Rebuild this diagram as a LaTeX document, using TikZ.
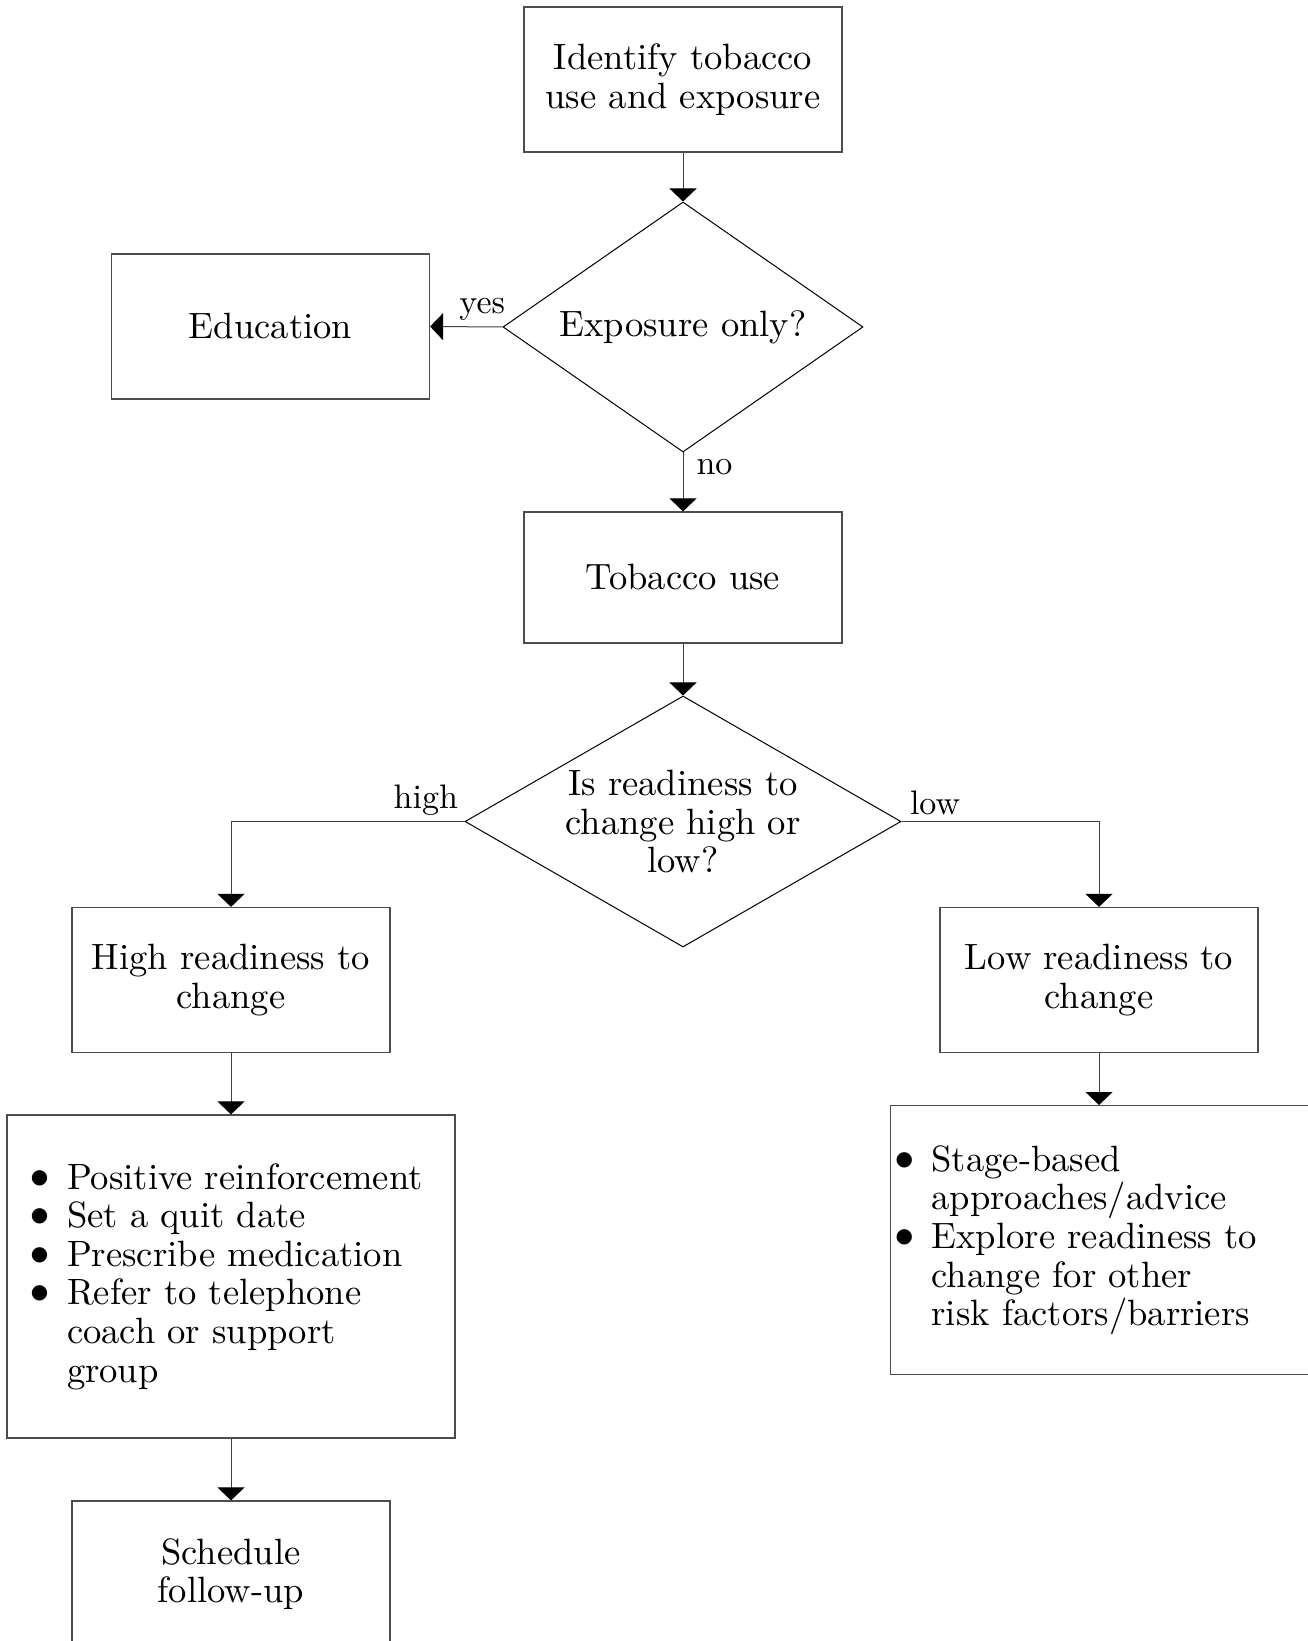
\documentclass[tikz,border=0pt]{standalone}
\usepackage{fontspec}
\setmainfont{lmroman10-regular.otf}
\newfontfamily\dotfont{DejaVu Sans}
\usetikzlibrary{arrows.meta,positioning,shapes.geometric,calc}
\newcommand{\chartfont}{\fontsize{18.3}{19.3}\selectfont}
\newcommand{\labelfont}{\fontsize{17}{18}\selectfont}
\newcommand{\bul}[1]{\makebox[#1][l]{\raisebox{3pt}{\dotfont\fontsize{10}{10}\selectfont ●}}}
\tikzset{
  act/.style={rectangle, draw=black!70, line width=0.6pt, align=center, font=\chartfont, minimum width=159pt, minimum height=72.5pt, inner sep=2pt},
  decision/.style={diamond, draw, line width=0.5pt, align=center, font=\chartfont, inner sep=0pt},
  tips/.style={rectangle, draw=black!70, line width=0.6pt, align=left, font=\chartfont},
  arr/.style={-{Triangle[length=6.5pt,width=13.5pt,color=black]}, draw=black!75, line width=0.5pt},
  lbl/.style={font=\labelfont, inner sep=3pt}
}

\begin{document}
\begin{tikzpicture}[x=0.5pt, y=-0.5pt]
\useasboundingbox (0,0) rectangle (1307,1641);
\node[act] (identify) at (683,79.5) {Identify tobacco\\use and exposure};
\node[decision, minimum width=180pt, minimum height=125pt, aspect=1.44] (exposure) at (683,327) {Exposure only?};
\node[act] (education) at (270.5,326.5) {Education};
\node[act, minimum height=65.5pt] (tobacco) at (683,577.5) {Tobacco use};
\node[decision, minimum width=218pt, minimum height=125.5pt, aspect=1.74] (ready) at (683,821.5) {Is readiness to\\change high or\\low?};
\node[act] (high) at (231,980) {High readiness to\\change};
\node[act] (low) at (1099,980) {Low readiness to\\change};
\node[tips, minimum width=224pt, minimum height=161.5pt, text width=200pt] (hightips) at (231,1276.5) {\bul{18pt}Positive reinforcement\\\bul{18pt}Set a quit date\\\bul{18pt}Prescribe medication\\\bul{18pt}Refer to telephone\\\hspace*{18pt}coach or support\\\hspace*{18pt}group};
\node[tips, anchor=north west, minimum width=215pt, minimum height=134.5pt, text width=210pt, inner xsep=2.5pt] (lowtips) at (890,1105) {\bul{18pt}Stage-based\\\hspace*{18pt}approaches/advice\\\bul{18pt}Explore readiness to\\\hspace*{18pt}change for other\\\hspace*{18pt}risk factors/barriers};
\node[act, minimum height=73pt] (schedule) at (231,1574) {Schedule\\follow-up};
\draw[arr] (identify) -- (exposure);
\draw[arr] (exposure.west) -- node[lbl, pos=0.28, above]{yes} (education.east);
\draw[arr] (exposure.south) -- node[lbl, pos=0.25, right, xshift=3.5pt]{no} (tobacco.north);
\draw[arr] (tobacco) -- (ready);
\draw[arr] (ready.west) -| node[lbl, pos=0, above left]{high} (high.north);
\draw[arr] (ready.east) -| node[lbl, pos=0, above right, xshift=1pt]{low} (low.north);
\draw[arr] (high) -- (hightips);
\draw[arr] (low.south) -- (low.south |- lowtips.north);
\draw[arr] (hightips) -- (schedule);
\end{tikzpicture}
\end{document}
